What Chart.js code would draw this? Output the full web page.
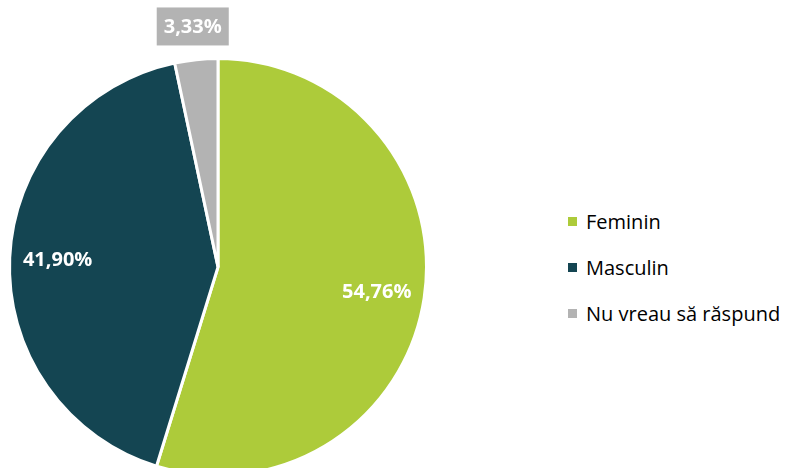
<!DOCTYPE html>
<html>
<head>
<meta charset="utf-8">
<script src="https://cdn.jsdelivr.net/npm/chart.js@4"></script>
<style>
  html, body { margin:0; padding:0; background:#fff; overflow:hidden; }
  #wrap { position:relative; width:787px; height:468px; overflow:hidden; }
  #pieBox { position:absolute; left:0px; top:0px; width:440px; height:480px; }
  #legend { position:absolute; left:568px; top:198px; font-family:"Open Sans", sans-serif; font-size:20px; color:#000; }
  .item { height:46px; display:flex; align-items:center; }
  .box { width:9px; height:9px; margin-right:9px; }
</style>
</head>
<body>
<div id="wrap">
  <div id="pieBox"><canvas id="myChart1"></canvas></div>
  <div id="legend"></div>
</div>
<script>
var labels = ['Feminin', 'Masculin', 'Nu vreau să răspund'];
var values = [54.76, 41.90, 3.33];
var colors = ['#adcb3a', '#144552', '#b3b3b3'];
var value_texts = ['54,76%', '41,90%', '3,33%'];

// legend in html, built from the same arrays
var leg = document.getElementById('legend');
for (var i in labels) {
  var row = document.createElement('div');
  row.className = 'item';
  var sq = document.createElement('span');
  sq.className = 'box';
  sq.style.background = colors[i];
  var tx = document.createElement('span');
  tx.textContent = labels[i];
  row.appendChild(sq);
  row.appendChild(tx);
  leg.appendChild(row);
}

// labels on slices, like excel data labels
var pieLabels = {
  id: 'pieLabels',
  afterDatasetsDraw: function(chart) {
    var ctx = chart.ctx;
    var meta = chart.getDatasetMeta(0);
    ctx.save();
    ctx.font = 'bold 20px "Open Sans", sans-serif';
    ctx.textAlign = 'center';
    ctx.textBaseline = 'middle';
    meta.data.forEach(function(arc, idx) {
      var mid = (arc.startAngle + arc.endAngle) / 2;
      var r = arc.outerRadius;
      var k = idx == 2 ? 1.16 : 0.77;
      var x = arc.x + Math.cos(mid) * r * k;
      var y = arc.y + Math.sin(mid) * r * k;
      var t = value_texts[idx];
      if (idx == 2) {
        var w = ctx.measureText(t).width + 14;
        ctx.fillStyle = colors[idx];
        ctx.fillRect(x - w / 2, y - 19, w, 38);
      }
      ctx.fillStyle = '#ffffff';
      ctx.fillText(t, x, y + 1);
    });
    ctx.restore();
  }
};

const data = {
  labels: labels,
  datasets: [{
    data: values,
    backgroundColor: colors,
    borderColor: '#ffffff',
    borderWidth: 3
  }]
};

const config = {
  type: 'pie',
  data: data,
  options: {
    responsive: true,
    maintainAspectRatio: false,
    animation: false,
    events: [],
    layout: { padding: { left: 8, top: 57, right: 12, bottom: 3 } },
    plugins: {
      legend: { display: false },
      tooltip: { enabled: false }
    }
  },
  plugins: [pieLabels]
};

const myChart1 = new Chart(document.getElementById('myChart1'), config);
</script>
</body>
</html>
